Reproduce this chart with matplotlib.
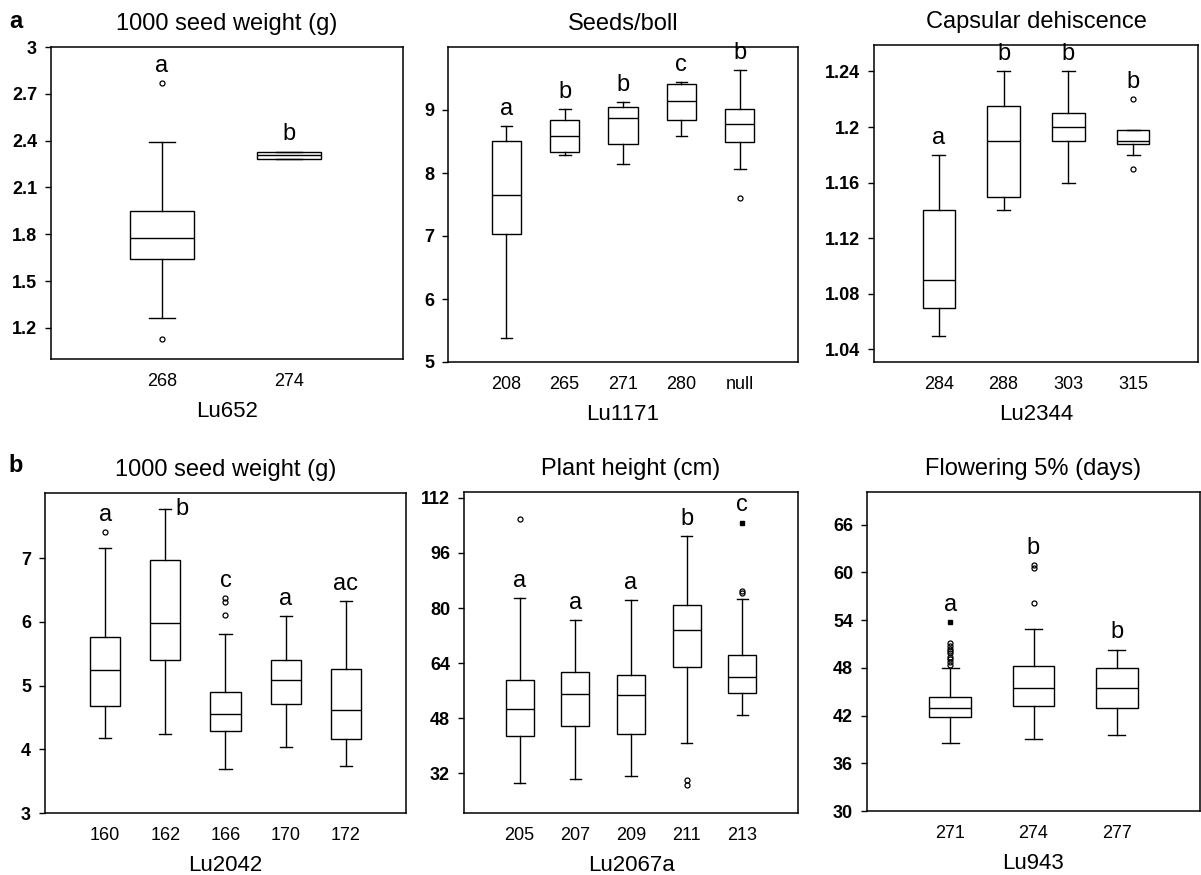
import numpy as np
import matplotlib
matplotlib.use('Agg')
from matplotlib import pyplot as plt

plt.rcParams['font.family'] = ['Liberation Sans', 'DejaVu Sans']

# panel a, left: Lu652, 1000 seed weight
a1_names = ['268', '274']
a1_lo = [1.26, 2.28]
a1_q1 = [1.64, 2.28]
a1_med = [1.775, 2.305]
a1_q3 = [1.95, 2.33]
a1_hi = [2.39, 2.33]
a1_out = [[2.77, 1.13], []]
a1_ext = [[], []]
a1_letters = ['a', 'b']
a1_yticks = [1.2, 1.5, 1.8, 2.1, 2.4, 2.7, 3.0]

# panel a, middle: Lu1171, seeds/boll
a2_names = ['208', '265', '271', '280', 'null']
a2_lo = [5.38, 8.28, 8.14, 8.58, 8.07]
a2_q1 = [7.03, 8.34, 8.46, 8.84, 8.50]
a2_med = [7.65, 8.59, 8.88, 9.14, 8.78]
a2_q3 = [8.51, 8.84, 9.04, 9.42, 9.02]
a2_hi = [8.74, 9.01, 9.13, 9.44, 9.63]
a2_out = [[], [], [], [], [7.61]]
a2_ext = [[], [], [], [], []]
a2_letters = ['a', 'b', 'b', 'c', 'b']
a2_yticks = [5, 6, 7, 8, 9]

# panel a, right: Lu2344, capsular dehiscence
a3_names = ['284', '288', '303', '315']
a3_lo = [1.050, 1.140, 1.160, 1.180]
a3_q1 = [1.070, 1.150, 1.190, 1.1876]
a3_med = [1.090, 1.190, 1.200, 1.190]
a3_q3 = [1.140, 1.215, 1.210, 1.198]
a3_hi = [1.180, 1.240, 1.240, 1.198]
a3_out = [[], [], [], [1.22, 1.17]]
a3_ext = [[], [], [], []]
a3_letters = ['a', 'b', 'b', 'b']
a3_yticks = [1.04, 1.08, 1.12, 1.16, 1.20, 1.24]

# panel b, left: Lu2042, 1000 seed weight
b1_names = ['160', '162', '166', '170', '172']
b1_lo = [4.17, 4.24, 3.69, 4.03, 3.73]
b1_q1 = [4.68, 5.40, 4.29, 4.71, 4.16]
b1_med = [5.24, 5.98, 4.55, 5.09, 4.61]
b1_q3 = [5.76, 6.97, 4.90, 5.40, 5.26]
b1_hi = [7.16, 7.77, 5.81, 6.09, 6.32]
b1_out = [[7.41], [], [6.10, 6.31, 6.37], [], []]
b1_ext = [[], [], [], [], []]
b1_letters = ['a', 'b', 'c', 'a', 'ac']
b1_yticks = [3, 4, 5, 6, 7]

# panel b, middle: Lu2067a, plant height
b2_names = ['205', '207', '209', '211', '213']
b2_lo = [29.1, 30.4, 31.1, 40.7, 49.0]
b2_q1 = [42.9, 45.9, 43.4, 62.9, 55.3]
b2_med = [50.8, 55.1, 54.7, 73.6, 60.1]
b2_q3 = [59.0, 61.4, 60.5, 80.9, 66.5]
b2_hi = [82.8, 76.5, 82.2, 100.9, 82.7]
b2_out = [[105.8], [], [], [30.0, 28.6], [84.5, 85.0]]
b2_ext = [[], [], [], [], [104.8]]
b2_letters = ['a', 'a', 'a', 'b', 'c']
b2_yticks = [32, 48, 64, 80, 96, 112]

# panel b, right: Lu943, flowering 5%
b3_names = ['271', '274', '277']
b3_lo = [38.6, 39.0, 39.5]
b3_q1 = [41.8, 43.2, 43.0]
b3_med = [43.0, 45.4, 45.4]
b3_q3 = [44.3, 48.2, 48.0]
b3_hi = [48.0, 52.9, 50.3]
b3_out = [[51.1, 50.8, 50.4, 50.1, 49.8, 49.4, 49.1, 48.7, 48.3], [56.1, 60.5, 60.9], []]
b3_ext = [[53.7], [], []]
b3_letters = ['a', 'b', 'b']
b3_yticks = [30, 36, 42, 48, 54, 60, 66]

W, H = 1201, 875
fig = plt.figure(figsize=(W / 100, H / 100), dpi=100)


def add_ax(l, t, r, b):
    return fig.add_axes([l / W, 1 - b / H, (r - l) / W, (b - t) / H])


def panel(ax, names, lo, q1, med, q3, hi, out, ext, letters, yticks,
          ylim, xlim, title, xlabel, side=(), skip_out=()):
    pos = np.arange(1, len(names) + 1)
    stats = []
    for i in range(len(names)):
        stats.append(dict(whislo=lo[i], q1=q1[i], med=med[i], q3=q3[i],
                          whishi=hi[i], fliers=out[i]))
    ax.bxp(stats, positions=pos, widths=0.5, capwidths=0.2, patch_artist=True,
           boxprops=dict(facecolor='white', edgecolor='black', linewidth=1),
           medianprops=dict(color='black', linewidth=1),
           whiskerprops=dict(color='black', linewidth=1),
           capprops=dict(color='black', linewidth=1),
           flierprops=dict(marker='o', markerfacecolor='none',
                           markeredgecolor='black', markersize=3.6,
                           markeredgewidth=0.9))
    for i in range(len(names)):
        if ext[i]:
            ax.plot([pos[i]] * len(ext[i]), ext[i], 's', color='black', ms=3)
    # significance letters
    for i, let in enumerate(letters):
        if i in side:
            ax.annotate(let, (pos[i], hi[i]), xytext=(7, 0),
                        textcoords='offset points', ha='left', va='center',
                        fontsize=17)
            continue
        top = hi[i]
        if i not in skip_out:
            top = max([hi[i]] + list(out[i]) + list(ext[i]))
        ax.annotate(let, (pos[i], top), xytext=(0, 4.5),
                    textcoords='offset points', ha='center', va='bottom',
                    fontsize=17)
    ax.set_xlim(*xlim)
    ax.set_ylim(*ylim)
    ax.set_xticks(pos, names, fontsize=13)
    ax.set_yticks(yticks, ['%g' % v for v in yticks], fontsize=13,
                  fontweight='bold')
    ax.tick_params(axis='x', length=0, pad=10)
    ax.tick_params(axis='y', direction='out', length=4, width=1, pad=6)
    for s in ax.spines.values():
        s.set_linewidth(1.1)
    ax.set_title(title, fontsize=17, pad=12)
    ax.set_xlabel(xlabel, fontsize=16, labelpad=8)


ax = add_ax(51, 47, 403, 359)
panel(ax, a1_names, a1_lo, a1_q1, a1_med, a1_q3, a1_hi, a1_out, a1_ext,
      a1_letters, a1_yticks, (1.0, 3.0), (0.125, 2.9),
      '1000 seed weight (g)', 'Lu652')

ax = add_ax(448, 47, 798, 362)
panel(ax, a2_names, a2_lo, a2_q1, a2_med, a2_q3, a2_hi, a2_out, a2_ext,
      a2_letters, a2_yticks, (5, 10), (0, 6), 'Seeds/boll', 'Lu1171')

ax = add_ax(874, 45, 1198, 362)
panel(ax, a3_names, a3_lo, a3_q1, a3_med, a3_q3, a3_hi, a3_out, a3_ext,
      a3_letters, a3_yticks, (1.031, 1.259), (0, 5),
      'Capsular dehiscence', 'Lu2344')

ax = add_ax(45, 493, 406, 813)
panel(ax, b1_names, b1_lo, b1_q1, b1_med, b1_q3, b1_hi, b1_out, b1_ext,
      b1_letters, b1_yticks, (3, 8.02), (0, 6),
      '1000 seed weight (g)', 'Lu2042', side=(1,))

ax = add_ax(464, 492, 798, 813)
panel(ax, b2_names, b2_lo, b2_q1, b2_med, b2_q3, b2_hi, b2_out, b2_ext,
      b2_letters, b2_yticks, (20.5, 113.7), (0, 6),
      'Plant height (cm)', 'Lu2067a', skip_out=(0,))

ax = add_ax(867, 492, 1200, 811)
panel(ax, b3_names, b3_lo, b3_q1, b3_med, b3_q3, b3_hi, b3_out, b3_ext,
      b3_letters, b3_yticks, (30, 70.1), (0, 4),
      'Flowering 5% (days)', 'Lu943')

fig.text(16 / W, 1 - 21 / H, 'a', fontsize=17, fontweight='bold',
         ha='center', va='center')
fig.text(16 / W, 1 - 466 / H, 'b', fontsize=17, fontweight='bold',
         ha='center', va='center')

fig.savefig('out.png', dpi=100)
